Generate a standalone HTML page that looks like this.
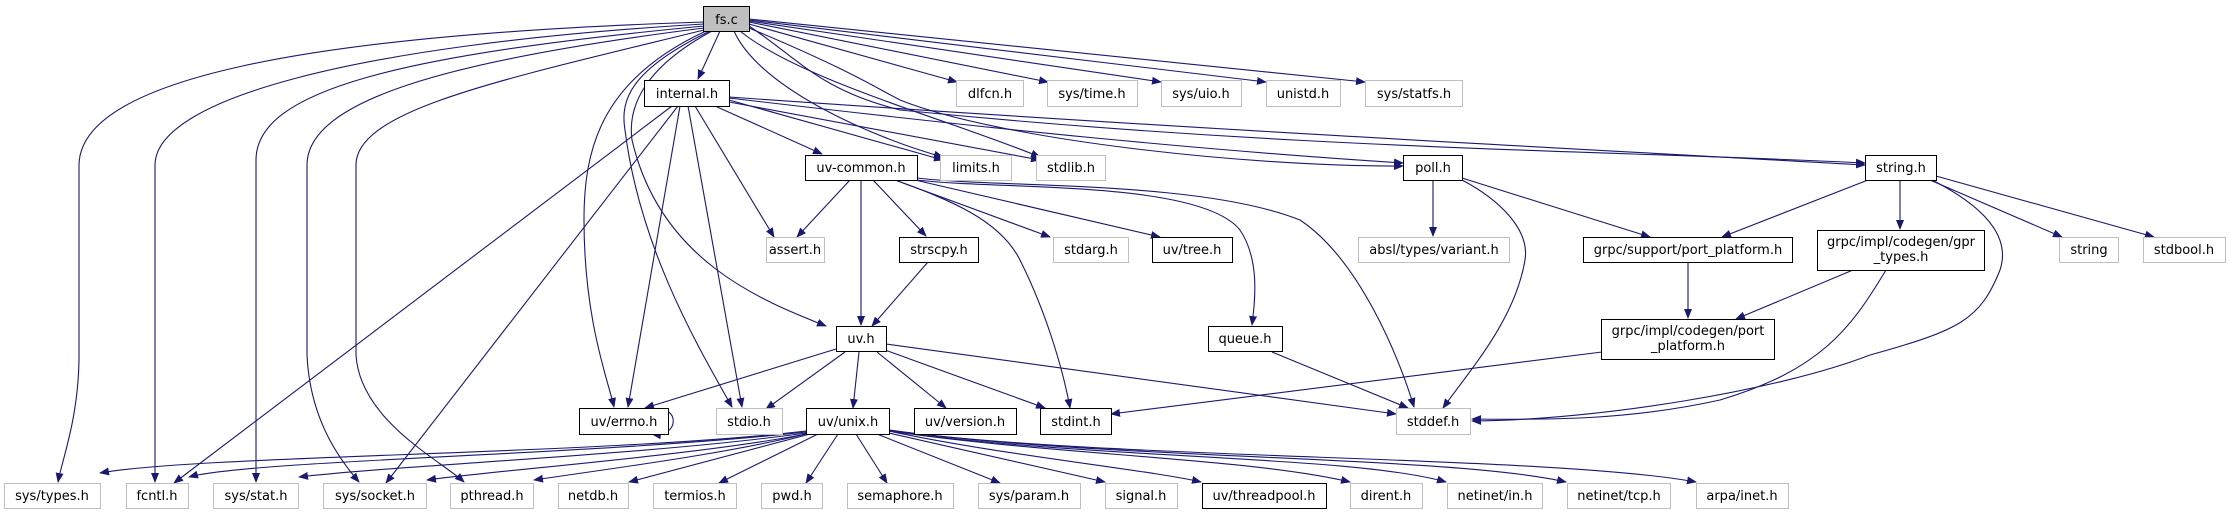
<!DOCTYPE html>
<html><head><meta charset="utf-8"><style>
html,body{margin:0;padding:0;background:#fff;}
svg{display:block;}
text{font-family:"DejaVu Sans","Liberation Sans",sans-serif;font-size:13px;fill:#000;text-anchor:middle;}
.e{fill:none;stroke:#191970;stroke-width:1.1;marker-end:url(#a);}
.g{fill:#fff;stroke:#bfbfbf;stroke-width:1;}
.b{fill:#fff;stroke:#000;stroke-width:1;}
</style></head><body>
<svg width="2229" height="515" viewBox="0 0 2229 515" xmlns="http://www.w3.org/2000/svg">
<defs><marker id="a" markerWidth="10" markerHeight="8" refX="9" refY="4" orient="auto" markerUnits="userSpaceOnUse"><path d="M0,0 L10,4 L0,8 z" fill="#191970"/></marker></defs>

<!-- edges from fs.c -->
<path class="e" d="M704,22 C300,35 80,80 79,165 L79,360 C78,420 62,460 58,482"/>
<path class="e" d="M704,24 C350,45 155,100 155,165 L155,482"/>
<path class="e" d="M704,26 C400,55 256,90 256,160 L256,482"/>
<path class="e" d="M704,28 C450,60 307,100 307,165 L307,355 C310,420 340,460 359,482"/>
<path class="e" d="M704,30 C500,80 356,110 356,165 L356,355 C360,420 440,460 464,482"/>
<path class="e" d="M706,31 C600,80 584,150 584,220 C584,320 608,380 614,407"/>
<path class="e" d="M710,31 C630,70 620,100 625,130 C640,250 700,350 732,407"/>
<path class="e" d="M712,31 C640,70 628,110 632,140 C660,260 760,300 826,326"/>
<path class="e" d="M720,31 L698,79"/>
<path class="e" d="M734,31 C760,90 880,140 943,157"/>
<path class="e" d="M740,31 C800,80 950,120 1040,157"/>
<path class="e" d="M749,24 L957,82"/>
<path class="e" d="M749,22 L1048,82"/>
<path class="e" d="M749,21 L1161,82"/>
<path class="e" d="M749,20 L1266,82"/>
<path class="e" d="M749,19 L1365,82"/>
<path class="e" d="M749,28 C850,70 880,90 900,100 C1000,140 1250,167 1403,166"/>
<path class="e" d="M749,26 C800,60 820,90 900,110 C1300,150 1600,150 1865,163"/>

<!-- internal.h -->
<path class="e" d="M672,106 L174,483"/>
<path class="e" d="M678,106 L386,483"/>
<path class="e" d="M680,106 L628,407"/>
<path class="e" d="M688,106 L742,407"/>
<path class="e" d="M695,106 L774,237"/>
<path class="e" d="M715,106 L822,154"/>
<path class="e" d="M729,100 L943,160"/>
<path class="e" d="M729,102 L1040,160"/>
<path class="e" d="M729,98 C1000,130 1200,150 1403,163"/>
<path class="e" d="M729,97 C1200,130 1600,150 1865,165"/>

<!-- uv-common.h -->
<path class="e" d="M850,180 L797,237"/>
<path class="e" d="M861,180 L861,325"/>
<path class="e" d="M873,180 L926,236"/>
<path class="e" d="M895,180 C950,200 1000,220 1020,260 C1050,320 1065,380 1070,408"/>
<path class="e" d="M895,180 L1050,237"/>
<path class="e" d="M915,180 L1160,237"/>
<path class="e" d="M917,180 C1000,190 1200,180 1240,230 C1260,260 1255,300 1252,325"/>
<path class="e" d="M917,178 C1000,188 1200,180 1300,220 C1360,260 1400,360 1414,407"/>

<!-- strscpy -> uv.h -->
<path class="e" d="M928,262 L872,326"/>

<!-- uv.h -->
<path class="e" d="M836,349 L645,408"/>
<path class="e" d="M845,352 L766,409"/>
<path class="e" d="M859,352 L853,408"/>
<path class="e" d="M877,352 L946,408"/>
<path class="e" d="M885,350 L1045,408"/>
<path class="e" d="M886,344 L1396,414"/>
<!-- errno self loop -->
<path class="e" d="M654,409 C680,405 680,438 652,434"/>

<!-- queue -> stddef -->
<path class="e" d="M1272,352 L1408,408"/>

<!-- poll.h -->
<path class="e" d="M1433,181 L1433,236"/>
<path class="e" d="M1462,178 L1650,237"/>
<path class="e" d="M1462,180 C1500,200 1530,230 1525,260 C1515,320 1470,370 1443,408"/>

<!-- string.h -->
<path class="e" d="M1868,180 L1722,237"/>
<path class="e" d="M1900,181 L1900,229"/>
<path class="e" d="M1930,180 L2062,237"/>
<path class="e" d="M1936,176 L2154,237"/>
<path class="e" d="M1934,181 C1990,210 2010,240 2000,270 C1980,320 1960,330 1870,355 C1780,390 1600,420 1472,421"/>

<!-- grpc -->
<path class="e" d="M1688,263 L1688,318"/>
<path class="e" d="M1853,270 L1736,319"/>
<path class="e" d="M1886,270 C1850,330 1820,370 1720,400 C1630,420 1550,420 1472,419"/>
<path class="e" d="M1602,352 L1111,414"/>

<!-- uv/unix.h -> bottom row -->
<path class="e" d="M806,431 C600,455 200,455 100,473"/>
<path class="e" d="M806,432 C600,455 250,460 189,477"/>
<path class="e" d="M806,433 C650,455 400,465 299,477"/>
<path class="e" d="M806,434 C700,455 500,470 427,480"/>
<path class="e" d="M806,434 C720,455 600,470 534,480"/>
<path class="e" d="M810,434 L629,482"/>
<path class="e" d="M818,434 L719,483"/>
<path class="e" d="M838,434 L806,483"/>
<path class="e" d="M856,434 L887,483"/>
<path class="e" d="M877,434 L1000,483"/>
<path class="e" d="M889,433 L1105,482"/>
<path class="e" d="M889,431 C1000,455 1150,470 1201,482"/>
<path class="e" d="M889,431 C1050,455 1250,458 1350,482"/>
<path class="e" d="M889,431 C1100,460 1350,455 1446,482"/>
<path class="e" d="M889,430 C1100,460 1450,455 1566,482"/>
<path class="e" d="M889,430 C1100,460 1550,455 1696,482"/>

<!-- nodes -->
<rect x="703.5" y="6.5" width="46" height="25" fill="#bfbfbf" stroke="#000"/><text x="726.5" y="24">fs.c</text>
<rect class="b" x="644.5" y="80.5" width="85" height="26"/><text x="687" y="98">internal.h</text>
<rect class="g" x="956.5" y="80.5" width="67" height="26"/><text x="990" y="98">dlfcn.h</text>
<rect class="g" x="1047.5" y="80.5" width="90" height="26"/><text x="1092" y="98">sys/time.h</text>
<rect class="g" x="1161.5" y="80.5" width="80" height="26"/><text x="1201" y="98">sys/uio.h</text>
<rect class="g" x="1266.5" y="80.5" width="74" height="26"/><text x="1303" y="98">unistd.h</text>
<rect class="g" x="1365.5" y="80.5" width="97" height="26"/><text x="1414" y="98">sys/statfs.h</text>

<rect class="b" x="805.5" y="155.5" width="112" height="25"/><text x="861" y="172">uv-common.h</text>
<rect class="g" x="940.5" y="155.5" width="71" height="25"/><text x="976" y="172">limits.h</text>
<rect class="g" x="1036.5" y="155.5" width="69" height="25"/><text x="1071" y="172">stdlib.h</text>
<rect class="b" x="1403.5" y="155.5" width="59" height="25"/><text x="1433" y="172">poll.h</text>
<rect class="b" x="1865.5" y="155.5" width="71" height="25"/><text x="1901" y="172">string.h</text>

<rect class="g" x="766.5" y="237.5" width="58" height="25"/><text x="795" y="254">assert.h</text>
<rect class="b" x="899.5" y="237.5" width="79" height="25"/><text x="939" y="254">strscpy.h</text>
<rect class="g" x="1053.5" y="237.5" width="75" height="25"/><text x="1091" y="254">stdarg.h</text>
<rect class="b" x="1152.5" y="237.5" width="80" height="25"/><text x="1192" y="254">uv/tree.h</text>
<rect class="g" x="1358.5" y="237.5" width="151" height="25"/><text x="1434" y="254">absl/types/variant.h</text>
<rect class="b" x="1583.5" y="237.5" width="209" height="25"/><text x="1688" y="254">grpc/support/port_platform.h</text>
<rect class="b" x="1817.5" y="230.5" width="167" height="40"/><text x="1901" y="246">grpc/impl/codegen/gpr</text><text x="1901" y="261">_types.h</text>
<rect class="g" x="2059.5" y="237.5" width="59" height="25"/><text x="2089" y="254">string</text>
<rect class="g" x="2143.5" y="237.5" width="82" height="25"/><text x="2184" y="254">stdbool.h</text>

<rect class="b" x="836.5" y="326.5" width="50" height="25"/><text x="861" y="343">uv.h</text>
<rect class="b" x="1208.5" y="326.5" width="74" height="25"/><text x="1245" y="343">queue.h</text>
<rect class="b" x="1601.5" y="319.5" width="173" height="40"/><text x="1688" y="335">grpc/impl/codegen/port</text><text x="1688" y="350">_platform.h</text>

<rect class="b" x="579.5" y="408.5" width="89" height="26"/><text x="624" y="426">uv/errno.h</text>
<rect class="g" x="716.5" y="408.5" width="66" height="26"/><text x="749" y="426">stdio.h</text>
<rect class="b" x="806.5" y="408.5" width="83" height="26"/><text x="848" y="426">uv/unix.h</text>
<rect class="b" x="914.5" y="408.5" width="102" height="26"/><text x="965" y="426">uv/version.h</text>
<rect class="b" x="1040.5" y="408.5" width="71" height="26"/><text x="1076" y="426">stdint.h</text>
<rect class="g" x="1396.5" y="408.5" width="74" height="26"/><text x="1433" y="426">stddef.h</text>

<rect class="g" x="4.5" y="483.5" width="96" height="25"/><text x="52" y="500">sys/types.h</text>
<rect class="g" x="126.5" y="483.5" width="62" height="25"/><text x="157" y="500">fcntl.h</text>
<rect class="g" x="213.5" y="483.5" width="85" height="25"/><text x="256" y="500">sys/stat.h</text>
<rect class="g" x="323.5" y="483.5" width="103" height="25"/><text x="375" y="500">sys/socket.h</text>
<rect class="g" x="450.5" y="483.5" width="83" height="25"/><text x="492" y="500">pthread.h</text>
<rect class="g" x="558.5" y="483.5" width="70" height="25"/><text x="593" y="500">netdb.h</text>
<rect class="g" x="653.5" y="483.5" width="83" height="25"/><text x="695" y="500">termios.h</text>
<rect class="g" x="761.5" y="483.5" width="61" height="25"/><text x="792" y="500">pwd.h</text>
<rect class="g" x="847.5" y="483.5" width="106" height="25"/><text x="900" y="500">semaphore.h</text>
<rect class="g" x="978.5" y="483.5" width="102" height="25"/><text x="1029" y="500">sys/param.h</text>
<rect class="g" x="1105.5" y="483.5" width="72" height="25"/><text x="1141" y="500">signal.h</text>
<rect class="b" x="1202.5" y="483.5" width="124" height="25"/><text x="1264" y="500">uv/threadpool.h</text>
<rect class="g" x="1350.5" y="483.5" width="72" height="25"/><text x="1386" y="500">dirent.h</text>
<rect class="g" x="1447.5" y="483.5" width="95" height="25"/><text x="1495" y="500">netinet/in.h</text>
<rect class="g" x="1567.5" y="483.5" width="103" height="25"/><text x="1619" y="500">netinet/tcp.h</text>
<rect class="g" x="1696.5" y="483.5" width="92" height="25"/><text x="1742" y="500">arpa/inet.h</text>
</svg>
</body></html>
